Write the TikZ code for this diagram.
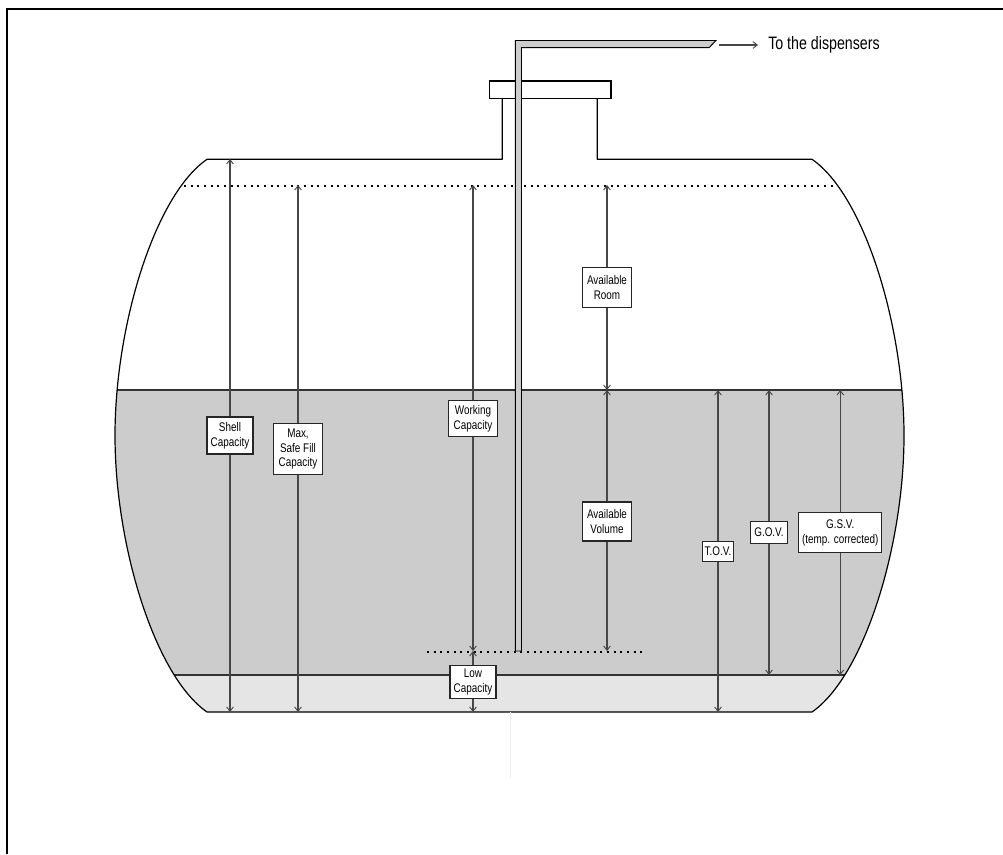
\documentclass[tikz,border=0pt]{standalone}
\usepackage{fontspec}
\setmainfont[FakeStretch=0.79]{Liberation Sans}
\usetikzlibrary{arrows.meta}
\definecolor{liquid}{gray}{0.8}
\definecolor{residue}{gray}{0.9}
\definecolor{dimline}{gray}{0.28}
\tikzset{
  x=0.75pt,y=-0.75pt,
  frameline/.style={line width=1.6pt,black},
  tankline/.style={line width=0.9pt,black},
  levelline/.style={line width=0.8pt,black!80},
  dotline/.style={line width=1.5pt,black,dash pattern=on 1.4pt off 3.6pt},
  uparrow/.style={line width=0.85pt,dimline,-{Straight Barb[length=3.2pt,width=5pt,line width=0.7pt]}},
  labelbox/.style={draw=black!85,line width=0.8pt,fill=white,align=center,font=\fontsize{9.4pt}{11.2pt}\selectfont,inner sep=0pt,text=black},
  boxsize/.style 2 args={minimum width=#1*0.75pt,minimum height=#2*0.75pt},
  pipeline/.style={line width=0.7pt,black,fill=liquid}
}
\begin{document}
\begin{tikzpicture}
\useasboundingbox (0,0) rectangle (1003,854);
% frame
\draw[frameline] (7,854) -- (7,9) -- (1003,9);
% tank contents
\begin{scope}
\clip (207,159) .. controls (155,195) and (115,325) .. (115,435.5)
  .. controls (115,546) and (155,676) .. (207,712)
  -- (812,712) .. controls (864,676) and (904,546) .. (904,435.5)
  .. controls (904,325) and (864,195) .. (812,159) -- cycle;
\fill[liquid] (100,390) rectangle (920,675);
\fill[residue] (100,675) rectangle (920,712);
\draw[levelline] (100,390) -- (920,390);
\draw[levelline] (100,675) -- (920,675);
\end{scope}
% tank outline
\draw[tankline,line join=round] (502.3,98.7) -- (502.3,159.3) -- (207,159.3)
  .. controls (155,195) and (115,325) .. (115,435.5)
  .. controls (115,546) and (155,676) .. (207,712)
  -- (812,712) .. controls (864,676) and (904,546) .. (904,435.5)
  .. controls (904,325) and (864,195) .. (812,159.3) -- (597.3,159.3) -- (597.3,98.7);
% flange
\draw[tankline,fill=white] (489.7,81) rectangle (611,98.7);
% dotted levels
\draw[dotline] (184,185.5) -- (836,185.5);
\draw[dotline] (427,651.5) -- (642,651.5);
% faint seam
\draw[line width=0.4pt,black!7] (510.5,712) -- (510.5,778);
% pipe
\draw[pipeline,line join=miter] (515.3,651) -- (515.3,40.5) -- (716,40.5) -- (709,47.7) -- (521.5,47.7) -- (521.5,651) -- cycle;
% reference coordinates
\coordinate (shelltop) at (0,159);
\coordinate (filltop) at (0,185);
\coordinate (surface) at (0,390);
\coordinate (suction) at (0,651);
\coordinate (water) at (0,675);
\coordinate (floor) at (0,712);
% labels
\node[labelbox,boxsize={46}{37}] (shell) at (230,435.5) {Shell\\Capacity};
\node[labelbox,boxsize={49.5}{51}] (maxfill) at (298,449) {Max,\\Safe Fill\\Capacity};
\node[labelbox,boxsize={49}{36.7}] (working) at (473,418.5) {Working\\Capacity};
\node[labelbox,boxsize={46}{33.7}] (low) at (473,682) {Low\\Capacity};
\node[labelbox,boxsize={48.7}{40}] (room) at (607,287.3) {Available\\Room};
\node[labelbox,boxsize={48.7}{39}] (volume) at (607,521.5) {Available\\Volume};
\node[labelbox,boxsize={31.4}{20.3}] (tov) at (718,551.2) {T.O.V.};
\node[labelbox,boxsize={36.6}{21.6}] (gov) at (769,532.5) {G.O.V.};
\node[labelbox,boxsize={82.7}{39.6}] (gsv) at (840.3,532.5) {G.S.V.\\(temp. corrected)};
% dimension arrows
\draw[uparrow] (shell.north) -- (shell.north |- shelltop);
\draw[uparrow] (shell.south) -- (shell.south |- floor);
\draw[uparrow] (maxfill.north) -- (maxfill.north |- filltop);
\draw[uparrow] (maxfill.south) -- (maxfill.south |- floor);
\draw[uparrow] (working.north) -- (working.north |- filltop);
\draw[uparrow] (working.south) -- (working.south |- suction);
\draw[uparrow] (low.north) -- (low.north |- suction);
\draw[uparrow] (low.south) -- (low.south |- floor);
\draw[uparrow] (room.north) -- (room.north |- filltop);
\draw[uparrow] (room.south) -- (room.south |- surface);
\draw[uparrow] (volume.north) -- (volume.north |- surface);
\draw[uparrow] (volume.south) -- (volume.south |- suction);
\draw[uparrow] (tov.north) -- (tov.north |- surface);
\draw[uparrow] (tov.south) -- (tov.south |- floor);
\draw[uparrow] (gov.north) -- (gov.north |- surface);
\draw[uparrow] (gov.south) -- (gov.south |- water);
\draw[uparrow] (gsv.north) -- (gsv.north |- surface);
\draw[uparrow] (gsv.south) -- (gsv.south |- water);
% outlet
\coordinate (outlet) at (719,45);
\coordinate (arrival) at (758,45);
\node[anchor=base west,inner sep=0pt,font=\fontsize{13.5pt}{14pt}\selectfont,text=black] (dest) at (768,49.3) {To the dispensers};
\draw[uparrow] (outlet) -- (arrival);
\end{tikzpicture}
\end{document}
